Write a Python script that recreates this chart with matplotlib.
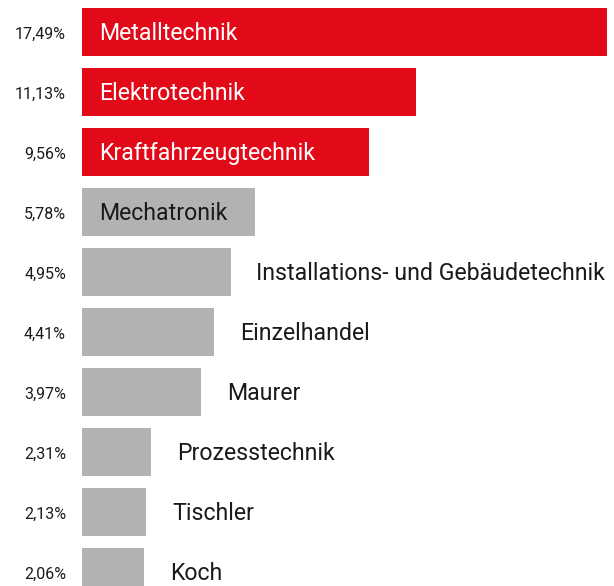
import matplotlib.pyplot as plt

# --- Daten ---
berufe = ['Metalltechnik', 'Elektrotechnik', 'Kraftfahrzeugtechnik', 'Mechatronik',
          'Installations- und Gebäudetechnik', 'Einzelhandel', 'Maurer',
          'Prozesstechnik', 'Tischler', 'Koch']
anteile = [17.49, 11.13, 9.56, 5.78, 4.95, 4.41, 3.97, 2.31, 2.13, 2.06]

rot = '#e20a19'
grau = '#b2b2b2'
dunkel = '#1a1a1a'

plt.rcParams['font.family'] = ['Roboto', 'DejaVu Sans']

fig = plt.figure(figsize=(6.14, 5.86), dpi=100)
# x=0 liegt bei 82 px, 30 px pro Prozentpunkt
ax = fig.add_axes([82 / 614, 0, 1 - 82 / 614, 1])
ax.set_xlim(0, 532 / 30)
ax.set_ylim(554 / 60, -32 / 60)
ax.axis('off')

farben = [rot if i < 3 else grau for i in range(len(anteile))]
positionen = list(range(len(anteile)))
ax.barh(positionen, anteile, height=0.8, color=farben)

for i, (name, wert) in enumerate(zip(berufe, anteile)):
    # Prozentwert links neben dem Balken
    ax.annotate(f'{wert:.2f}'.replace('.', ',') + '%', (0, i),
                xytext=(-16, -7.3), textcoords='offset pixels',
                ha='right', va='baseline', fontsize=11.5, color=dunkel,
                annotation_clip=False)
    # Berufsname: innen bei langen Balken, sonst rechts daneben
    if wert > 5:
        ax.annotate(name, (0, i), xytext=(17, -8.3), textcoords='offset pixels',
                    ha='left', va='baseline', fontsize=16.7,
                    color='white' if i < 3 else dunkel)
    else:
        ax.annotate(name, (wert, i), xytext=(26, -8.3), textcoords='offset pixels',
                    ha='left', va='baseline', fontsize=16.7, color=dunkel,
                    annotation_clip=False)

fig.savefig('out.png', dpi=100)
